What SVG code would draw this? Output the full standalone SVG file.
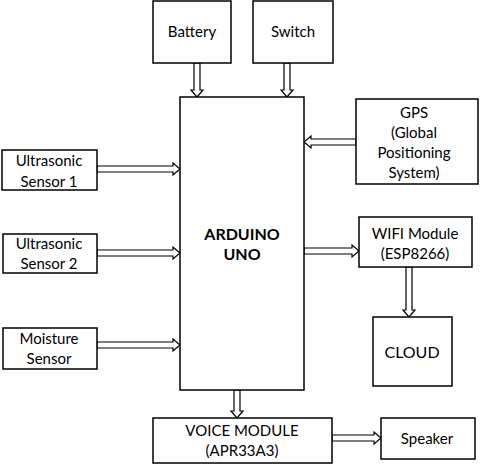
<svg xmlns="http://www.w3.org/2000/svg" width="480" height="464" viewBox="0 0 480 464">
<style>
.box{fill:#fff;stroke:#000;stroke-width:1.5}
.arr{fill:#fff;stroke:#000;stroke-width:1.2;stroke-linejoin:miter}
text{font-family:Lato,"Liberation Sans",sans-serif;font-size:15px;fill:#000;text-anchor:middle}
.big{font-size:16px;font-weight:bold}
.cl{font-size:16px}
</style>
<rect width="480" height="464" fill="#fff"/>
<g id="connectors">
<polygon class="arr" points="194,63 200,63 200,90 203,90 197,97 191,90 194,90"/>
<polygon class="arr" points="284,63 290,63 290,90 293,90 287,97 281,90 284,90"/>
<polygon class="arr" points="97,166 173,166 173,163 180,169 173,175 173,172 97,172"/>
<polygon class="arr" points="97,250 173,250 173,247 180,253 173,259 173,256 97,256"/>
<polygon class="arr" points="97,342 173,342 173,339 180,345 173,351 173,348 97,348"/>
<polygon class="arr" points="356,139 311,139 311,136 304,142 311,148 311,145 356,145"/>
<polygon class="arr" points="304,248 352,248 352,245 359,251 352,257 352,254 304,254"/>
<polygon class="arr" points="406,267 412,267 412,310 415,310 409,317 403,310 406,310"/>
<polygon class="arr" points="234,390 240,390 240,411 243,411 237,418 231,411 234,411"/>
<polygon class="arr" points="332,435 374,435 374,432 381,438 374,444 374,441 332,441"/>
</g>
<g id="battery"><rect class="box" x="153" y="1" width="78" height="62"/><text x="192" y="37">Battery</text></g>
<g id="switch"><rect class="box" x="253" y="1" width="80" height="62"/><text x="293" y="37">Switch</text></g>
<g id="arduino"><rect class="box" x="180" y="97" width="124" height="293"/><text class="big" x="242" y="240">ARDUINO</text><text class="big" x="242" y="260">UNO</text></g>
<g id="us1"><rect class="box" x="2" y="150" width="95" height="40"/><text x="49" y="166">Ultrasonic</text><text x="49" y="187">Sensor 1</text></g>
<g id="us2"><rect class="box" x="3" y="234" width="94" height="39"/><text x="49" y="249">Ultrasonic</text><text x="49" y="269">Sensor 2</text></g>
<g id="moisture"><rect class="box" x="3" y="328" width="94" height="41"/><text x="49" y="344">Moisture</text><text x="49" y="364">Sensor</text></g>
<g id="gps"><rect class="box" x="356" y="99" width="122" height="85"/><text x="414" y="118">GPS</text><text x="414" y="138">(Global</text><text x="414" y="158">Positioning</text><text x="414" y="178">System)</text></g>
<g id="wifi"><rect class="box" x="359" y="217" width="113" height="50"/><text x="415" y="239">WIFI Module</text><text x="415" y="259">(ESP8266)</text></g>
<g id="cloud"><rect class="box" x="373" y="317" width="79" height="69"/><text class="cl" x="412" y="358">CLOUD</text></g>
<g id="voice"><rect class="box" x="153" y="418" width="179" height="45"/><text x="242" y="436">VOICE MODULE</text><text x="242" y="456">(APR33A3)</text></g>
<g id="speaker"><rect class="box" x="381" y="418" width="94" height="41"/><text x="427" y="444">Speaker</text></g>
</svg>
